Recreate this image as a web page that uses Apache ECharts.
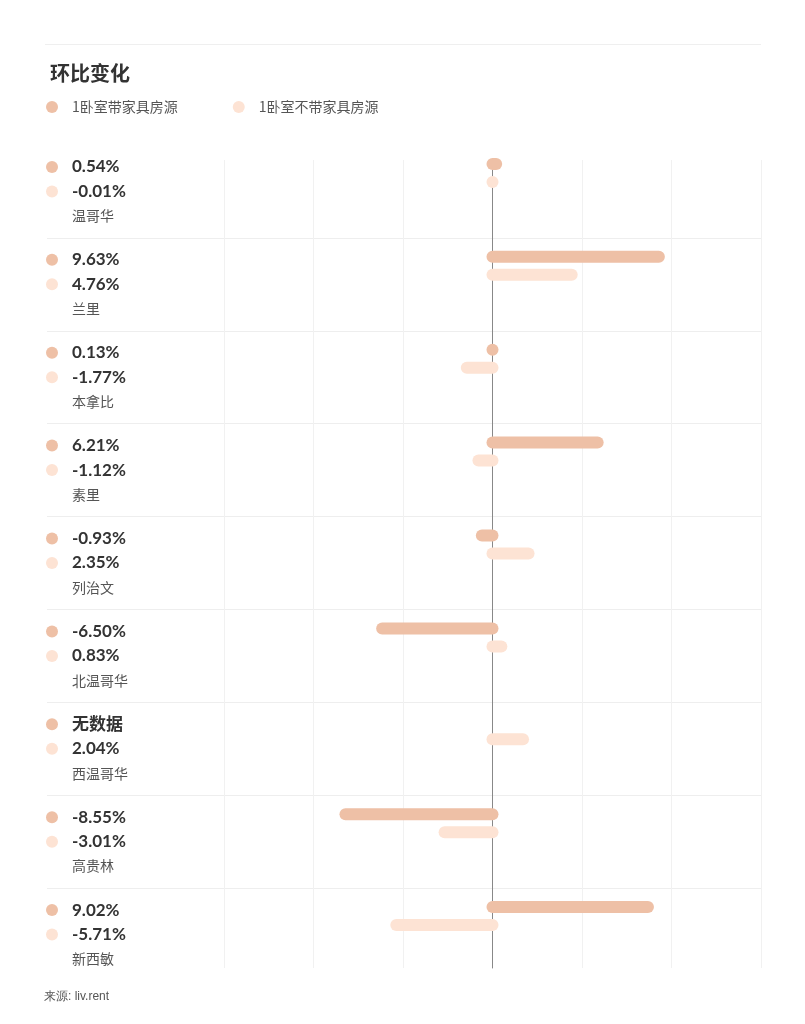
<!DOCTYPE html>
<html>
<head>
<meta charset="utf-8">
<script src="https://cdn.jsdelivr.net/npm/echarts@6/dist/echarts.min.js"></script>
<style>
html,body{margin:0;padding:0;background:#fff;}
#chart{width:805px;height:1024px;}
</style>
</head>
<body>
<div id="chart"></div>
<script>
// ---- data ----
const titleText = '环比变化';
const sourceText = '来源: liv.rent';
const seriesNames = ['1卧室带家具房源', '1卧室不带家具房源'];
const cities = ['温哥华', '兰里', '本拿比', '素里', '列治文', '北温哥华', '西温哥华', '高贵林', '新西敏'];
const furnished = [0.54, 9.63, 0.13, 6.21, -0.93, -6.50, null, -8.55, 9.02];
const unfurnished = [-0.01, 4.76, -1.77, -1.12, 2.35, 0.83, 2.04, -3.01, -5.71];
const noDataText = '无数据';
const xMin = -15, xMax = 15, xInterval = 5;

// ---- styles ----
const colors = ['#EEC0A6', '#FDE3D4'];
const numFont = 'Lato, "Noto Sans CJK SC", sans-serif';
const cjkFont = '"Noto Sans CJK SC", sans-serif';

function fmt(v) { return v == null ? noDataText : v.toFixed(2) + '%'; }

function makeRender(offset) {
  return function (params, api) {
    const v = api.value(0);
    const idx = api.value(1);
    if (v == null || isNaN(v)) return null;
    const p0 = api.coord([0, idx]);
    const p1 = api.coord([v, idx]);
    const r = 6;
    let x1, x2;
    if (v >= 0) { x1 = p0[0] - r; x2 = Math.max(p1[0], p0[0] + r); }
    else { x1 = Math.min(p1[0], p0[0] - r); x2 = p0[0] + r; }
    const y = p0[1] + offset;
    return {
      type: 'rect',
      shape: { x: x1, y: y - r, width: x2 - x1, height: 2 * r, r: r },
      style: { fill: api.visual('color') }
    };
  };
}

const chart = echarts.init(document.getElementById('chart'), null, { renderer: 'canvas' });

const option = {
  backgroundColor: '#fff',
  animation: false,
  title: {
    text: titleText, left: 45, top: 58,
    textStyle: { fontSize: 20, fontWeight: 'bold', color: '#333', fontFamily: cjkFont }
  },
  legend: {
    left: 41, top: 95, icon: 'circle', itemWidth: 12, itemHeight: 12, itemGap: 55,
    data: seriesNames,
    textStyle: { fontSize: 14, color: '#555', fontFamily: cjkFont, padding: [0, 0, 0, 9] }
  },
  graphic: [
    { type: 'line', shape: { x1: 45, y1: 44.5, x2: 761, y2: 44.5 }, style: { stroke: '#efefef', lineWidth: 1 } },
    { type: 'text', left: 44, top: 991, style: { text: sourceText, fontSize: 12, fill: '#555', font: '12px ' + cjkFont } }
  ],
  grid: [
    { left: 47, right: 44, top: 145, bottom: 43 },
    { left: 224, right: 44, top: 160, bottom: 56 },
    { left: 224, right: 44, top: 145, bottom: 43 }
  ],
  xAxis: [
    { gridIndex: 0, type: 'value', min: 0, max: 1, show: false },
    {
      gridIndex: 1, type: 'value', min: xMin, max: xMax, interval: xInterval,
      axisLine: { show: false }, axisTick: { show: false }, axisLabel: { show: false },
      splitLine: { show: true, lineStyle: { color: '#f1f1f1', width: 1 } }
    },
    { gridIndex: 2, type: 'value', min: xMin, max: xMax, interval: xInterval, show: false }
  ],
  yAxis: [
    {
      gridIndex: 0, type: 'category', data: cities, inverse: true,
      axisLine: { show: false }, axisTick: { show: false },
      splitLine: { show: true, showMinLine: false, showMaxLine: false, lineStyle: { color: '#eeeeee', width: 1 } },
      axisLabel: {
        inside: true, margin: -1, align: 'left', verticalAlign: 'middle',
        formatter: function (value, index) {
          return '{d1| }{sp| }{v|' + fmt(furnished[index]) + '}\n' +
                 '{d2| }{sp| }{v|' + fmt(unfurnished[index]) + '}\n' +
                 '{n|' + value + '}';
        },
        rich: {
          d1: { width: 12, height: 12, borderRadius: 6, backgroundColor: colors[0], lineHeight: 24.5 },
          d2: { width: 12, height: 12, borderRadius: 6, backgroundColor: colors[1], lineHeight: 24.5 },
          sp: { width: 14, lineHeight: 24.5 },
          v: { fontSize: 17, fontWeight: 'bold', color: '#333', fontFamily: numFont, lineHeight: 24.5 },
          n: { fontSize: 14, color: '#555', fontFamily: cjkFont, lineHeight: 24.5, padding: [0, 0, 0, 26] }
        }
      }
    },
    {
      gridIndex: 1, type: 'value', min: 0, max: 1,
      axisLine: { show: true, onZero: true, lineStyle: { color: '#888', width: 1 } },
      axisTick: { show: false }, axisLabel: { show: false }, splitLine: { show: false }
    },
    { gridIndex: 2, type: 'category', data: cities, inverse: true, show: false }
  ],
  series: [
    {
      name: seriesNames[0], type: 'custom', xAxisIndex: 2, yAxisIndex: 2,
      itemStyle: { color: colors[0] }, clip: false,
      encode: { x: 0, y: 1 },
      renderItem: makeRender(-27.5),
      data: furnished.map((v, i) => [v == null ? NaN : v, i])
    },
    {
      name: seriesNames[1], type: 'custom', xAxisIndex: 2, yAxisIndex: 2,
      itemStyle: { color: colors[1] }, clip: false,
      encode: { x: 0, y: 1 },
      renderItem: makeRender(-9.5),
      data: unfurnished.map((v, i) => [v, i])
    }
  ]
};
chart.setOption(option);
</script>
</body>
</html>
